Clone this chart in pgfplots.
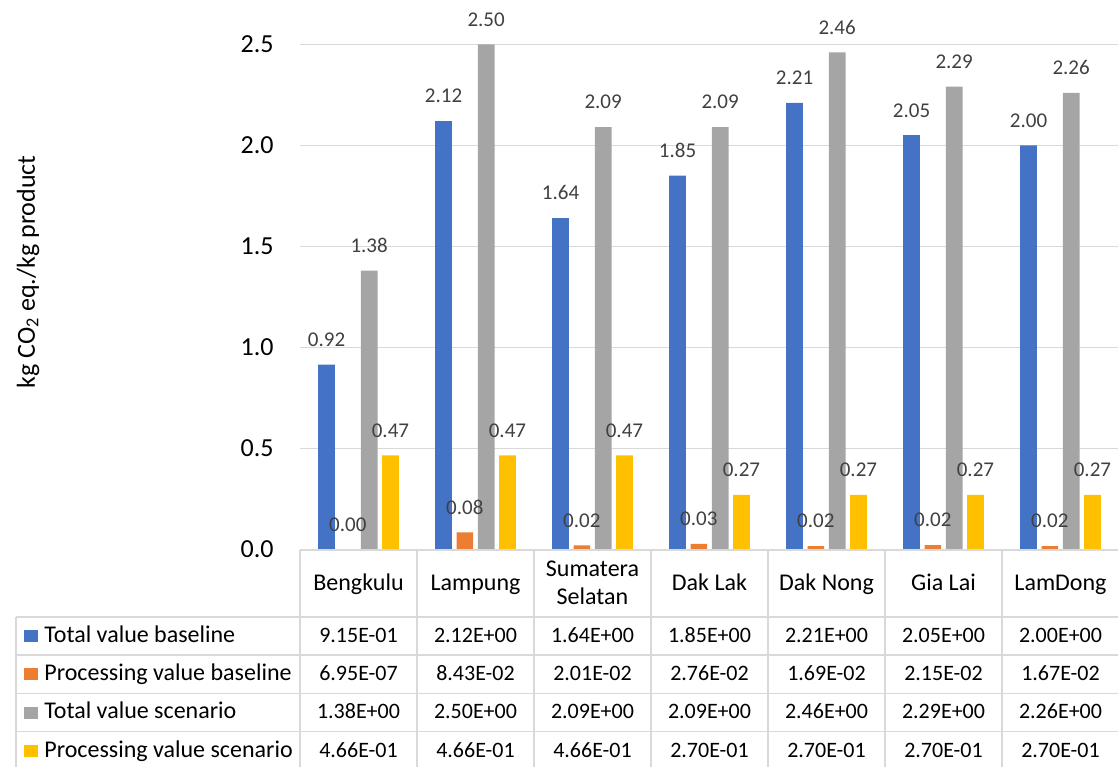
\documentclass[border=0pt]{standalone}
\usepackage{fontspec}
\setmainfont{Carlito}
\usepackage{pgfplots}
\pgfplotsset{compat=1.18}
\definecolor{cBlue}{HTML}{4472C4}
\definecolor{cOrange}{HTML}{ED7D31}
\definecolor{cGray}{HTML}{A5A5A5}
\definecolor{cYellow}{HTML}{FFC000}
\definecolor{gridgray}{HTML}{D9D9D9}
\definecolor{labelgray}{HTML}{404040}
\newcommand{\tabfont}{\fontsize{11}{14}\selectfont}
\newcommand{\wordfont}{\fontsize{12}{14}\selectfont}
\begin{document}
\begin{tikzpicture}
\begin{axis}[
  at={(150pt,-274.75pt)}, anchor=south west,
  scale only axis, width=409.5pt, height=252.6pt,
  xmin=-0.5, xmax=6.5, ymin=0, ymax=2.5,
  ybar=2.3pt, bar width=8.35pt,
  ytick={0,0.5,1,1.5,2,2.5},
  /pgf/number format/assume math mode=true,
  yticklabel style={font=\fontsize{13}{15}\selectfont, anchor=east, inner sep=0pt, xshift=-13pt,
    /pgf/number format/.cd, fixed, fixed zerofill, precision=1, assume math mode=true},
  xtick=\empty,
  ymajorgrids, grid style={color=gridgray, line width=0.5pt},
  axis line style={draw=none}, major tick length=0pt,
  clip=false,
  nodes near coords={\pgfmathprintnumber[fixed,fixed zerofill,precision=2,assume math mode=true]{\pgfplotspointmeta}},
  every node near coord/.append style={font=\fontsize{10.5}{12}\selectfont, color=labelgray, yshift=5.5pt},
]
\addplot[fill=cBlue, draw=none] coordinates {(0,0.9152) (1,2.12) (2,1.64) (3,1.85) (4,2.21) (5,2.05) (6,2.00)};
\addplot[fill=cOrange, draw=none] coordinates {(0,6.95e-7) (1,0.0843) (2,0.0201) (3,0.0276) (4,0.0169) (5,0.0215) (6,0.0167)};
\addplot[fill=cGray, draw=none] coordinates {(0,1.38) (1,2.50) (2,2.09) (3,2.09) (4,2.46) (5,2.29) (6,2.26)};
\addplot[fill=cYellow, draw=none] coordinates {(0,0.466) (1,0.466) (2,0.466) (3,0.270) (4,0.270) (5,0.270) (6,0.270)};
\end{axis}
\begin{scope}[x=0.5pt,y=-0.5pt]
% y axis title
\node[rotate=90, font=\fontsize{13}{15}\selectfont] at (28,272) {kg CO\textsubscript{2} eq./kg product};
% table lines
\begin{scope}[draw=gridgray, line width=0.75pt]
\draw (300,550) -- (1125,550);
\foreach \y in {617,655,693.3,731.7} \draw (16,\y) -- (1125,\y);
\draw (16,617) -- (16,790);
\foreach \x in {300,417,534,651,768,885,1002} \draw (\x,550) -- (\x,790);
\end{scope}
% header
\foreach \x/\n in {358.5/Bengkulu,475.5/Lampung,709.5/Dak Lak,826.5/Dak Nong,943.5/Gia Lai,1060.5/LamDong}
  \node[font=\wordfont, anchor=base, inner sep=0pt] at (\x,590) {\n};
\node[font=\wordfont, anchor=base, inner sep=0pt] at (592.5,576) {Sumatera};
\node[font=\wordfont, anchor=base, inner sep=0pt] at (592.5,604.3) {Selatan};
% legend column
\fill[cBlue]   (24,630) rectangle (38,642);
\fill[cOrange] (24,668.3) rectangle (38,680.3);
\fill[cGray]   (24,706.6) rectangle (38,718.6);
\fill[cYellow] (24,745) rectangle (38,757);
\node[font=\wordfont, anchor=base west, inner sep=0pt] at (44,642) {Total value baseline};
\node[font=\wordfont, anchor=base west, inner sep=0pt] at (44,680.3) {Processing value baseline};
\node[font=\wordfont, anchor=base west, inner sep=0pt] at (44,718.6) {Total value scenario};
\node[font=\wordfont, anchor=base west, inner sep=0pt] at (44,757) {Processing value scenario};
% values
\foreach \x/\v in {358.5/9.15E-01,475.5/2.12E+00,592.5/1.64E+00,709.5/1.85E+00,826.5/2.21E+00,943.5/2.05E+00,1060.5/2.00E+00}
  \node[font=\tabfont, anchor=base, inner sep=0pt] at (\x,642) {\v};
\foreach \x/\v in {358.5/6.95E-07,475.5/8.43E-02,592.5/2.01E-02,709.5/2.76E-02,826.5/1.69E-02,943.5/2.15E-02,1060.5/1.67E-02}
  \node[font=\tabfont, anchor=base, inner sep=0pt] at (\x,680.3) {\v};
\foreach \x/\v in {358.5/1.38E+00,475.5/2.50E+00,592.5/2.09E+00,709.5/2.09E+00,826.5/2.46E+00,943.5/2.29E+00,1060.5/2.26E+00}
  \node[font=\tabfont, anchor=base, inner sep=0pt] at (\x,718.6) {\v};
\foreach \x/\v in {358.5/4.66E-01,475.5/4.66E-01,592.5/4.66E-01,709.5/2.70E-01,826.5/2.70E-01,943.5/2.70E-01,1060.5/2.70E-01}
  \node[font=\tabfont, anchor=base, inner sep=0pt] at (\x,757) {\v};
\pgfresetboundingbox
\path[use as bounding box] (0,0) rectangle (1118,766);
\end{scope}
\end{tikzpicture}
\end{document}
